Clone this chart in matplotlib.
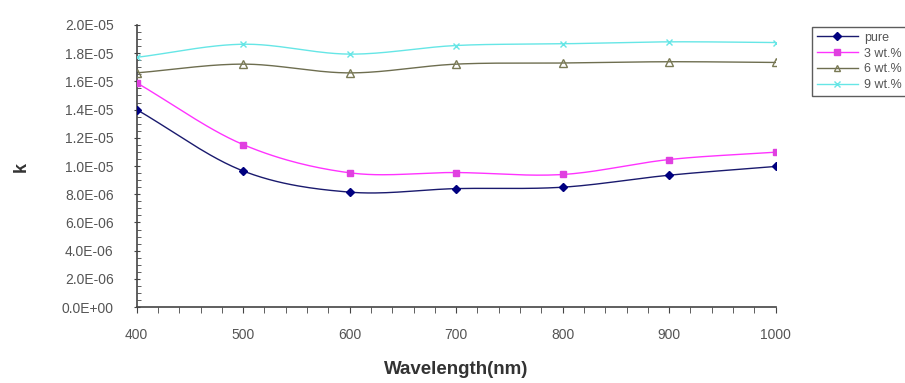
import numpy as np
import matplotlib
matplotlib.use("Agg")
import matplotlib.pyplot as plt
from matplotlib.ticker import MultipleLocator, FuncFormatter

plt.rcParams['font.family'] = ['Liberation Sans', 'DejaVu Sans']

wavelength = [400, 500, 600, 700, 800, 900, 1000]
k_pure = [1.40e-05, 0.965e-05, 0.815e-05, 0.84e-05, 0.85e-05, 0.935e-05, 0.997e-05]
k_3wt = [1.59e-05, 1.152e-05, 0.952e-05, 0.954e-05, 0.94e-05, 1.046e-05, 1.098e-05]
k_6wt = [1.66e-05, 1.722e-05, 1.66e-05, 1.722e-05, 1.73e-05, 1.739e-05, 1.734e-05]
k_9wt = [1.77e-05, 1.863e-05, 1.793e-05, 1.854e-05, 1.866e-05, 1.88e-05, 1.875e-05]
labels = ['pure', '3 wt.%', '6 wt.%', '9 wt.%']


def smooth(x, y, n=30):
    # Catmull-Rom style curve through the points (like a "smoothed line" chart)
    x = np.asarray(x, float)
    y = np.asarray(y, float)
    px = np.concatenate([[2 * x[0] - x[1]], x, [2 * x[-1] - x[-2]]])
    py = np.concatenate([[2 * y[0] - y[1]], y, [2 * y[-1] - y[-2]]])
    t = np.linspace(0, 1, n)
    xs, ys = [], []
    for i in range(1, len(px) - 2):
        for p, out in ((px, xs), (py, ys)):
            p0, p1, p2, p3 = p[i - 1], p[i], p[i + 1], p[i + 2]
            out.append(0.5 * (2 * p1 + (-p0 + p2) * t
                              + (2 * p0 - 5 * p1 + 4 * p2 - p3) * t ** 2
                              + (-p0 + 3 * p1 - 3 * p2 + p3) * t ** 3))
    return np.concatenate(xs), np.concatenate(ys)


fig = plt.figure(figsize=(9.05, 3.83), dpi=100)
ax = fig.add_axes([0.151, 0.198, 0.706, 0.737])

styles = [
    dict(color='#1a1a6e', marker='D', ms=4.5, mfc='#000080', mec='#000080'),
    dict(color='#ff33ff', marker='s', ms=5, mfc='#e040e0', mec='#e040e0'),
    dict(color='#6e6e50', marker='^', ms=6, mfc='none', mec='#7a7a55'),
    dict(color='#66e6e6', marker='x', ms=5, mfc='#66e6e6', mec='#66e6e6'),
]

handles = []
for ys, lab, st in zip([k_pure, k_3wt, k_6wt, k_9wt], labels, styles):
    sx, sy = smooth(wavelength, ys)
    ax.plot(sx, sy, color=st['color'], lw=1.0, zorder=2)
    ax.plot(wavelength, ys, ls='none', marker=st['marker'], ms=st['ms'],
            mfc=st['mfc'], mec=st['mec'], mew=1.0, zorder=3)
    h, = ax.plot([], [], color=st['color'], lw=1.0, marker=st['marker'],
                 ms=st['ms'] * 0.8, mfc=st['mfc'], mec=st['mec'])
    handles.append(h)

ax.set_xlim(400, 1000)
ax.set_ylim(0, 2.0e-05)
ax.xaxis.set_major_locator(MultipleLocator(100))
ax.xaxis.set_minor_locator(MultipleLocator(20))
ax.yaxis.set_major_locator(MultipleLocator(2.0e-06))
ax.yaxis.set_minor_locator(MultipleLocator(5.0e-07))
ax.yaxis.set_major_formatter(FuncFormatter(lambda v, p: f"{v:.1E}"))

for s in ['top', 'right']:
    ax.spines[s].set_visible(False)
for s in ['left', 'bottom']:
    ax.spines[s].set_color('#444444')
    ax.spines[s].set_linewidth(1.2)

ax.tick_params(which='both', colors='#444444', labelcolor='#555555', labelsize=10)
ax.tick_params(axis='x', which='both', direction='out', length=4, pad=11)
ax.tick_params(axis='y', which='major', direction='inout', length=5, pad=14)
ax.tick_params(axis='y', which='minor', direction='in', length=3)

ax.set_xlabel('Wavelength(nm)', fontsize=13.5, fontweight='bold', color='#333333', labelpad=14)
fig.text(0.024, 0.565, 'k', fontsize=13, fontweight='bold', color='#333333',
         rotation=90, ha='center', va='center')

leg = fig.legend(handles, labels, loc='upper left', bbox_to_anchor=(0.897, 0.93),
                 fontsize=9, frameon=True, fancybox=False, edgecolor='#333333',
                 handlelength=3.3, borderpad=0.4, labelspacing=0.3,
                 handletextpad=0.5, borderaxespad=0)
leg.get_frame().set_linewidth(1.0)
for t in leg.get_texts():
    t.set_color('#555555')

fig.savefig('out.png', dpi=100)
